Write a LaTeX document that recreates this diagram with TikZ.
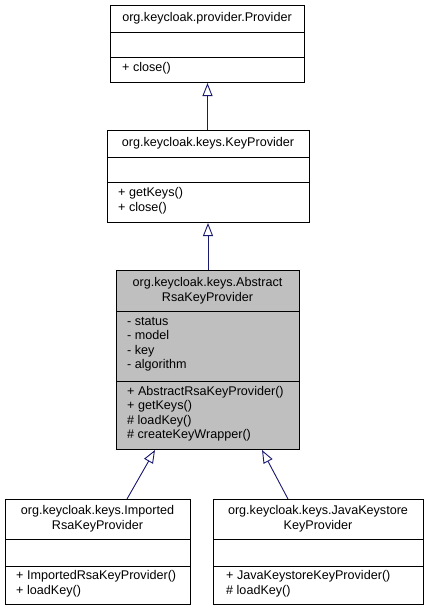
\documentclass[tikz,border=0pt]{standalone}
\usepackage{fontspec}
\setmainfont{Liberation Sans}
\usetikzlibrary{arrows.meta,calc}
\definecolor{arrowblue}{HTML}{191970}
\definecolor{grayfill}{HTML}{BFBFBF}
\begin{document}
\begin{tikzpicture}[x=1pt,y=-1pt,
  cls/.style={draw=black, line width=1pt, fill=white, inner sep=0pt, anchor=north west},
  sep/.style={draw=black, line width=1pt},
  lbl/.style={inner sep=0pt, font=\fontsize{12.6}{14.5}\selectfont, anchor=mid west},
  ttl/.style={inner sep=0pt, font=\fontsize{12.6}{14.5}\selectfont, align=center},
  inh/.style={draw=arrowblue, line width=0.9pt, -{Triangle[open, length=13pt, width=10pt, line width=0.9pt]}}]
\useasboundingbox (0,0) rectangle (429,611);
% Provider
\node[cls, minimum width=194pt, minimum height=77pt] (prov) at (110,5) {};
\draw[sep] (110,32) -- (304,32);
\draw[sep] (110,57) -- (304,57);
\node[ttl] (provt) at (207,18) {org.keycloak.provider.Provider};
\node[lbl] (provm1) at (122,69) {+ close()};
% KeyProvider
\node[cls, minimum width=202pt, minimum height=92pt] (kp) at (107,130) {};
\draw[sep] (107,157) -- (309,157);
\draw[sep] (107,182) -- (309,182);
\node[ttl] (kpt) at (208,143) {org.keycloak.keys.KeyProvider};
\node[lbl] (kpm1) at (118,194) {+ getKeys()};
\node[lbl] (kpm2) at (118,208.5) {+ close()};
% AbstractRsaKeyProvider
\node[cls, fill=grayfill, minimum width=183pt, minimum height=179pt] (abs) at (116,270) {};
\draw[sep] (116,311) -- (299,311);
\draw[sep] (116,381) -- (299,381);
\node[ttl] (abst) at (207.5,290.5) {org.keycloak.keys.Abstract\\RsaKeyProvider};
\node[lbl] (absa1) at (127,322.5) {- status};
\node[lbl] (absa2) at (127,337) {- model};
\node[lbl] (absa3) at (127,351.5) {- key};
\node[lbl] (absa4) at (127,366) {- algorithm};
\node[lbl] (absm1) at (127,392.5) {+ AbstractRsaKeyProvider()};
\node[lbl] (absm2) at (127,407) {+ getKeys()};
\node[lbl] (absm3) at (127,421.5) {\# loadKey()};
\node[lbl] (absm4) at (127,436) {\# createKeyWrapper()};
% ImportedRsaKeyProvider
\node[cls, minimum width=185pt, minimum height=105pt] (imp) at (5,499) {};
\draw[sep] (5,539) -- (190,539);
\draw[sep] (5,566) -- (190,566);
\node[ttl] (impt) at (97.5,518.5) {org.keycloak.keys.Imported\\RsaKeyProvider};
\node[lbl] (impm1) at (16,577) {+ ImportedRsaKeyProvider()};
\node[lbl] (impm2) at (16,591.5) {+ loadKey()};
% JavaKeystoreKeyProvider
\node[cls, minimum width=210pt, minimum height=105pt] (jks) at (213,499) {};
\draw[sep] (213,539) -- (423,539);
\draw[sep] (213,566) -- (423,566);
\node[ttl] (jkst) at (318,518.5) {org.keycloak.keys.JavaKeystore\\KeyProvider};
\node[lbl] (jksm1) at (226,577) {+ JavaKeystoreKeyProvider()};
\node[lbl] (jksm2) at (226,591.5) {\# loadKey()};
% inheritance connectors
\draw[inh] (prov.south |- kp.north) -- (prov.south);
\draw[inh] (abs.north) -- (abs.north |- kp.south);
\draw[inh] ($(imp.north west)+(122,0)$) -- ($(abs.south west)+(39,0)$);
\draw[inh] ($(jks.north west)+(75,0)$) -- ($(abs.south west)+(146,0)$);
\end{tikzpicture}
\end{document}
